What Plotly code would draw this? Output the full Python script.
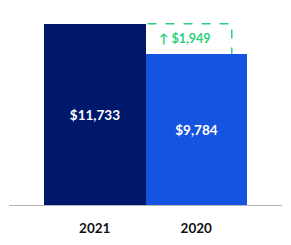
import plotly.graph_objects as go

categories = ["2021", "2020"]
values = [11733, 9784]
bar_colors = ["#00186B", "#1554E0"]
diff_label = "↑ $1,949"

xpos = [0, 1]

fig = go.Figure()
fig.add_trace(go.Bar(
    x=xpos, y=values, width=1,
    marker=dict(color=bar_colors, line=dict(width=0)),
    text=[f"${v:,}" for v in values],
    textposition="inside", insidetextanchor="middle",
    textfont=dict(family="Lato", size=13.5, color="white"),
    texttemplate="<b>%{text}</b>",
    hoverinfo="skip",
))

# dashed increase box
fig.add_shape(type="path",
              path=f"M 0.52 {values[0]} L 1.35 {values[0]} L 1.35 {values[1]}",
              xref="x", yref="y",
              line=dict(color="#2BD17E", width=1.5, dash="dash"))
fig.add_annotation(x=0.89, y=(values[0] + values[1]) / 2, xref="x", yref="y",
                   text=f"<b>{diff_label}</b>", showarrow=False,
                   font=dict(family="Lato", size=12.5, color="#2BD17E"))

# baseline
fig.add_shape(type="line", xref="paper", yref="y", x0=0, x1=1, y0=0, y1=0,
              line=dict(color="#B5B5B5", width=2))

fig.update_layout(
    width=291, height=245,
    margin=dict(l=9, r=9, t=10, b=34),
    paper_bgcolor="white", plot_bgcolor="white",
    showlegend=False, bargap=0,
    xaxis=dict(range=[-0.845, 1.845], tickmode="array", tickvals=xpos,
               ticktext=[f"<b>{c}</b>" for c in categories],
               tickfont=dict(family="Lato", size=13.5, color="#111111"),
               ticks="outside", ticklen=10, tickcolor="rgba(0,0,0,0)",
               showgrid=False, zeroline=False, showline=False),
    yaxis=dict(range=[0, 12611], visible=False, showgrid=False, zeroline=False),
)

fig.write_html("out.html")
